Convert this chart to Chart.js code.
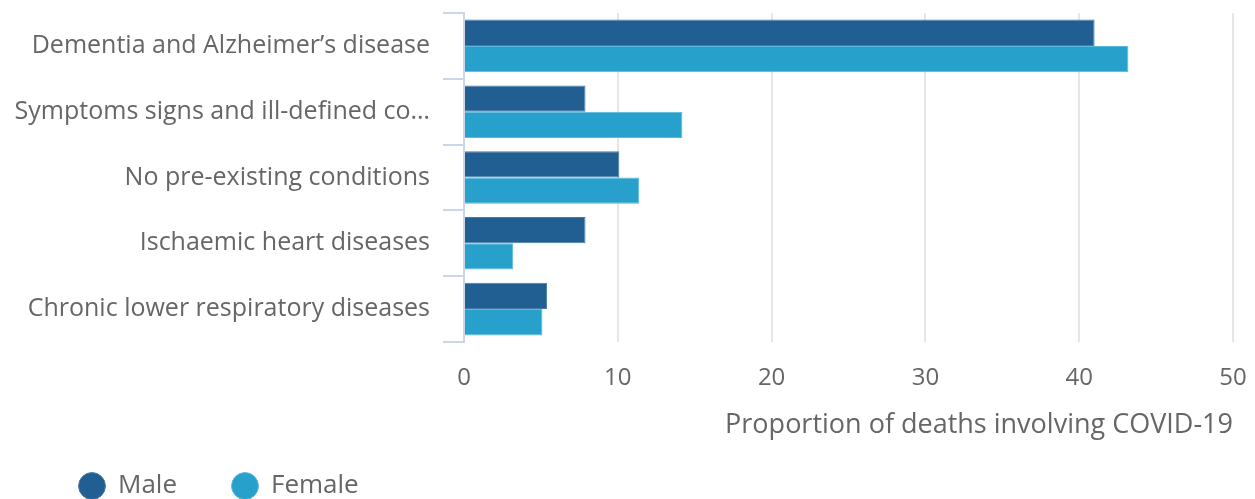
<!DOCTYPE html>
<html>
<head>
<meta charset="utf-8">
<script src="https://cdn.jsdelivr.net/npm/chart.js@4"></script>
<style>
    html, body { margin: 0; padding: 0; background: #fff; overflow: hidden; }
    #wrap { width: 1255px; height: 499px; }
    canvas { display: block; }
</style>
</head>
<body>
<div id="wrap"><canvas id="grafico"></canvas></div>
<script>
const categorias = [
    "Dementia and Alzheimer’s disease",
    "Symptoms signs and ill-defined conditions",
    "No pre-existing conditions",
    "Ischaemic heart diseases",
    "Chronic lower respiratory diseases"
];
const male = [41.0, 7.9, 10.1, 7.9, 5.4];
const female = [43.2, 14.2, 11.4, 3.2, 5.1];
const ticksX = [0, 10, 20, 30, 40, 50];

const corMale = '#215f93';
const corFemale = '#27a0cc';
const cinza = '#666666';

Chart.defaults.font.family = '"Open Sans", sans-serif';
Chart.defaults.color = cinza;

// legenda: reserva pouca altura e é desenhada na posição da referência
const legendaPosicao = {
    id: 'legendaPosicao',
    beforeInit(chart) {
        const fit = chart.legend.fit;
        chart.legend.fit = function () {
            fit.bind(chart.legend)();
            this.height = 40;
        };
    },
    afterLayout(chart) {
        const lg = chart.legend;
        const pad = lg.options.labels.padding;
        lg.top = 473 - pad;
        lg.left = 24;
    }
};

new Chart(document.getElementById('grafico').getContext('2d'), {
    type: 'bar',
    data: {
        labels: categorias,
        datasets: [
            { label: 'Male', data: male, backgroundColor: corMale, borderColor: '#4a7aa8', borderWidth: 1, borderSkipped: 'left' },
            { label: 'Female', data: female, backgroundColor: corFemale, borderColor: '#5ab8dc', borderWidth: 1, borderSkipped: 'left' }
        ]
    },
    options: {
        indexAxis: 'y',
        responsive: true,
        maintainAspectRatio: false,
        animation: false,
        layout: { padding: { top: 13, right: 22, left: 0, bottom: 0 } },
        datasets: { bar: { categoryPercentage: 0.8, barPercentage: 1.0 } },
        scales: {
            x: {
                min: 0,
                max: 50,
                afterBuildTicks: s => { s.ticks = ticksX.map(v => ({ value: v })); },
                afterFit: s => { s.paddingLeft = 0; s.paddingRight = 0; s.height = 117; },
                grid: { color: '#e6e6e6', lineWidth: 2, drawTicks: false },
                border: { display: false },
                ticks: { font: { size: 24 }, color: cinza, padding: 22 },
                title: {
                    display: true,
                    text: 'Proportion of deaths involving COVID-19',
                    align: 'end',
                    font: { size: 27 },
                    color: cinza,
                    padding: { top: 7, bottom: 17 }
                }
            },
            y: {
                afterFit: s => { s.width = 464; s.paddingTop = 0; s.paddingBottom = 0; },
                grid: { offset: true, drawOnChartArea: false, color: '#ccd6eb', lineWidth: 2, tickLength: 21 },
                border: { display: true, color: '#ccd6eb', width: 2 },
                ticks: {
                    font: { size: 25 },
                    color: cinza,
                    padding: 13,
                    callback: function (v) {
                        const t = this.getLabelForValue(v);
                        return t.length > 34 ? t.slice(0, 33) + '…' : t;
                    }
                }
            }
        },
        plugins: {
            legend: {
                position: 'bottom',
                align: 'start',
                labels: {
                    usePointStyle: true,
                    pointStyle: 'circle',
                    boxWidth: 26,
                    boxHeight: 19,
                    padding: 55,
                    font: { size: 26, lineHeight: 1 },
                    color: cinza
                }
            },
            tooltip: { enabled: false }
        }
    },
    plugins: [legendaPosicao]
});
</script>
</body>
</html>
